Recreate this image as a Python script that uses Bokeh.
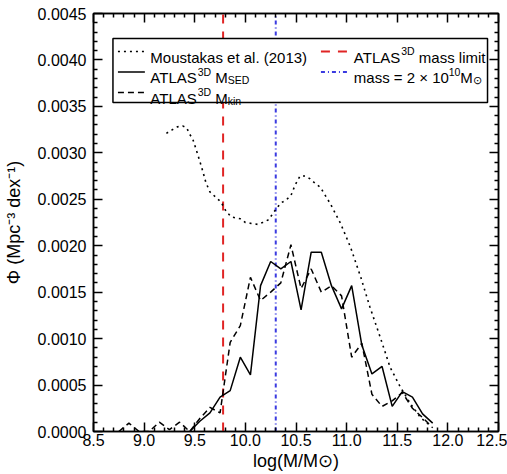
from bokeh.plotting import figure
from bokeh.models import Range1d, LinearAxis, FixedTicker, PrintfTickFormatter
from bokeh.core.properties import value
from bokeh.embed import file_html
from bokeh.resources import INLINE

# Moustakas et al. (2013) stellar mass function
moustakas_logm = [9.22, 9.28, 9.33, 9.38, 9.42, 9.45, 9.48, 9.53, 9.55, 9.58,
                  9.61, 9.65, 9.71, 9.76, 9.81, 9.86, 9.95, 10.00, 10.06, 10.12,
                  10.17, 10.23, 10.28, 10.35, 10.40, 10.45, 10.49, 10.54, 10.59,
                  10.64, 10.69, 10.74, 10.84, 10.94, 11.04, 11.14, 11.23, 11.33,
                  11.43, 11.53, 11.63, 11.73, 11.84]
moustakas_phi = [0.00321, 0.00325, 0.00328, 0.00329, 0.00327, 0.00320, 0.00315,
                 0.00298, 0.00291, 0.00280, 0.00268, 0.00258, 0.00252, 0.00247,
                 0.00237, 0.00231, 0.00229, 0.00225, 0.00224, 0.00223, 0.00225,
                 0.00228, 0.00236, 0.00246, 0.00249, 0.00254, 0.00265, 0.00275,
                 0.00275, 0.00272, 0.00267, 0.00263, 0.00245, 0.00224, 0.00198,
                 0.00166, 0.00134, 0.00102, 0.00069, 0.00048, 0.00030, 0.00015,
                 0.00005]

# ATLAS3D mass function from SED masses (0.1 dex bins)
sed_logm = [9.45, 9.55, 9.65, 9.75, 9.85, 9.95, 10.05, 10.15, 10.25, 10.35,
            10.45, 10.55, 10.65, 10.75, 10.85, 10.95, 11.05, 11.15, 11.25,
            11.35, 11.45, 11.55, 11.65, 11.75, 11.85]
sed_phi = [0.0, 0.00011, 0.00020, 0.00037, 0.00044, 0.00080, 0.00061, 0.00157,
           0.00183, 0.00175, 0.00183, 0.00131, 0.00193, 0.00193, 0.00157,
           0.00132, 0.00157, 0.00093, 0.00062, 0.00070, 0.00027, 0.00043,
           0.00037, 0.00019, 0.00009]

# ATLAS3D mass function from dynamical masses (0.1 dex bins)
kin_logm = [8.75, 8.85, 8.95, 9.05, 9.15, 9.25, 9.35, 9.45, 9.55, 9.65, 9.75,
            9.85, 9.95, 10.05, 10.15, 10.25, 10.35, 10.45, 10.55, 10.65, 10.75,
            10.85, 10.95, 11.05, 11.15, 11.25, 11.35, 11.45, 11.55, 11.65,
            11.75, 11.85]
kin_phi = [0.0, 0.00009, 0.0, 0.0, 0.00010, 0.00002, 0.00010, 0.0, 0.00014,
           0.00026, 0.00020, 0.00096, 0.00114, 0.00166, 0.00141, 0.00150,
           0.00160, 0.00201, 0.00154, 0.00175, 0.00150, 0.00157, 0.00146,
           0.00080, 0.00095, 0.00040, 0.00027, 0.00033, 0.00042, 0.00025,
           0.00015, 0.00004]

mass_limit = 9.78      # ATLAS3D completeness limit
mass_cut = 10.30       # log(2e10)

x_major = [8.5, 9.0, 9.5, 10.0, 10.5, 11.0, 11.5, 12.0, 12.5]
y_major = [0.0, 0.0005, 0.0010, 0.0015, 0.0020, 0.0025, 0.0030, 0.0035,
           0.0040, 0.0045]

x_title = "log(M/M\u2299)"
y_title = "\u03a6 (Mpc\u207b\u00b3 dex\u207b\u00b9)"

FONT = "Liberation Sans"
RED = "#e02424"
BLUE = "#3a3ae0"

# frame geometry (pixels) and ranges
W, H = 507, 474
FL, FR, FT, FB = 92, 9, 13, 43
FW, FH = W - FL - FR, H - FT - FB
X0, X1 = x_major[0], x_major[-1]
Y0, Y1 = y_major[0], y_major[-1]


def sx(px):
    return X0 + (px - FL) * (X1 - X0) / FW


def sy(py):
    return Y1 - (py - FT) * (Y1 - Y0) / FH


# Arial advance widths (per em) for positioning sub/superscripts
ADV = {" ": .278, "A": .667, "D": .722, "E": .667, "L": .556, "M": .833,
       "S": .667, "T": .611, "a": .556, "e": .556, "i": .222, "k": .5,
       "l": .222, "m": .833, "n": .556, "s": .5, "t": .278, "=": .584,
       "\u00d7": .584, "(": .333, ")": .333, ".": .278, "/": .278,
       "o": .556, "u": .556, "g": .556}


def tw(s, size):
    return sum(ADV.get(c, .556) for c in s) * size


def minors(major, n=5):
    out = []
    for a, b in zip(major[:-1], major[1:]):
        out += [round(a + (b - a) * k / n, 6) for k in range(1, n)]
    return out


p = figure(width=W, height=H, x_range=Range1d(X0, X1), y_range=Range1d(Y0, Y1),
           output_backend="svg", toolbar_location=None,
           min_border_left=FL, min_border_right=FR, min_border_top=FT,
           min_border_bottom=FB)
p.xgrid.visible = False
p.ygrid.visible = False
p.background_fill_color = "white"
p.border_fill_color = "white"
p.outline_line_color = "black"
p.outline_line_width = 1.5

xt = FixedTicker(ticks=x_major, minor_ticks=minors(x_major))
yt = FixedTicker(ticks=y_major, minor_ticks=minors(y_major))


def style_axis(ax, show_labels):
    ax.major_tick_in = 9
    ax.major_tick_out = 0
    ax.minor_tick_in = 4
    ax.minor_tick_out = 0
    ax.axis_line_width = 1.5
    ax.major_tick_line_width = 1.5
    ax.minor_tick_line_width = 1.5
    ax.axis_line_color = "black"
    ax.major_tick_line_color = "black"
    ax.minor_tick_line_color = "black"
    ax.major_label_text_font = FONT
    if show_labels:
        ax.major_label_text_color = "black"
        ax.major_label_text_font_size = "16px"
    else:
        ax.major_label_text_color = None
        ax.major_label_text_font_size = "0px"
        ax.major_label_standoff = 0
    ax.axis_label_text_font = FONT
    ax.axis_label_text_font_size = "18px"
    ax.axis_label_text_font_style = "normal"
    ax.axis_label_text_color = "black"


bx = p.xaxis[0]
bx.ticker = xt
bx.formatter = PrintfTickFormatter(format="%.1f")
style_axis(bx, True)
bx.major_label_standoff = 2
bx.axis_label = x_title
bx.axis_label_standoff = 2

ly = p.yaxis[0]
ly.ticker = yt
ly.formatter = PrintfTickFormatter(format="%.4f")
style_axis(ly, True)
ly.major_label_standoff = 7
ly.axis_label = y_title
ly.axis_label_standoff = 11

top = LinearAxis(ticker=xt)
style_axis(top, False)
p.add_layout(top, "above")
right = LinearAxis(ticker=yt)
style_axis(right, False)
p.add_layout(right, "right")

# vertical reference lines
p.segment(x0=[mass_limit], y0=[Y0], x1=[mass_limit], y1=[Y1],
          line_color=RED, line_width=2, line_dash="9 8")
p.segment(x0=[mass_cut], y0=[Y0], x1=[mass_cut], y1=[Y1],
          line_color=BLUE, line_width=2, line_dash="4 3 1 3")

# mass functions
p.line(moustakas_logm, moustakas_phi, line_color="black", line_width=1.6,
       line_dash="2 4")
p.line(sed_logm, sed_phi, line_color="black", line_width=1.5)
p.line(kin_logm, kin_phi, line_color="black", line_width=1.5, line_dash="6 4")

# legend box
p.quad(left=[sx(111.5)], right=[sx(487)], top=[sy(38)], bottom=[sy(102)],
       fill_color="white", line_color="black", line_width=1.5)

LS = 15
SS = 10.5
rows = [56.5, 77, 97.5]
c1_line = (116.5, 143.5)
c2_line = (320, 347)
c1_text = 149
c2_text = 353


def txt(px, py, s, size):
    p.text(x=[sx(px)], y=[sy(py)], text=[s], text_font=value(FONT),
           text_font_size=f"{size}px", text_color="black",
           text_baseline="alphabetic", text_align="left")


def sample(xs, row, color="black", **kw):
    yc = sy(rows[row] - 5.5)
    p.line([sx(xs[0]), sx(xs[1])], [yc, yc], line_color=color, **kw)


def atlas(px, py, tail, tail_sub):
    txt(px, py, "ATLAS", LS)
    x = px + tw("ATLAS", LS)
    txt(x, py - 6, "3D", SS)
    x += tw("3D", SS) + tw(" ", LS)
    txt(x, py, tail, LS)
    if tail_sub is not None:
        x += tw(tail, LS)
        txt(x, py + 2.5, tail_sub, SS)


sample(c1_line, 0, line_width=1.6, line_dash="2 4")
txt(c1_text, rows[0], "Moustakas et al. (2013)", LS)
sample(c1_line, 1, line_width=1.5)
atlas(c1_text, rows[1], "M", "SED")
sample(c1_line, 2, line_width=1.5, line_dash="6 4")
atlas(c1_text, rows[2], "M", "kin")

sample(c2_line, 0, color=RED, line_width=2, line_dash="9 8")
atlas(c2_text, rows[0], "mass limit", None)
sample(c2_line, 1, color=BLUE, line_width=2, line_dash="4 3 1 3")
s0 = "mass = 2 \u00d7 10"
txt(c2_text, rows[1], s0, LS)
xx = c2_text + tw(s0, LS)
txt(xx, rows[1] - 6, "10", SS)
xx += tw("10", SS)
txt(xx, rows[1], "M", LS)
xx += tw("M", LS)
txt(xx, rows[1] + 2.5, "\u2299", SS)

open("out.html", "w").write(file_html(p, INLINE))
